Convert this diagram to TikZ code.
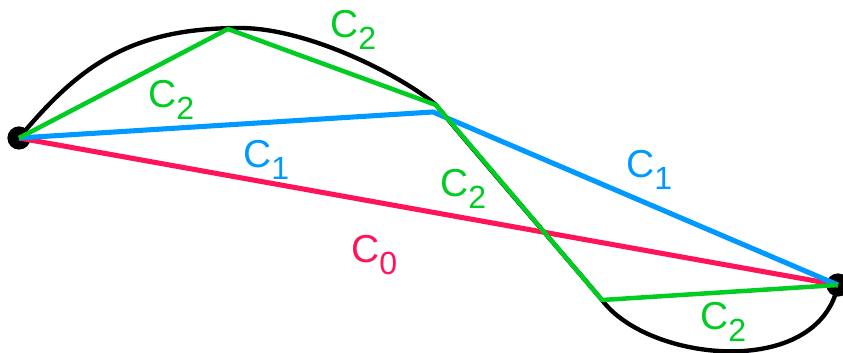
\documentclass[tikz,border=0pt]{standalone}
\usepackage{fontspec}
\setmainfont{Liberation Sans}
\usepackage{tikz}
\usepackage{xcolor}

\definecolor{czero}{RGB}{255,20,90}
\definecolor{cone}{RGB}{0,153,255}
\definecolor{ctwo}{RGB}{0,204,34}

\newcommand{\clab}[1]{C\raisebox{-8.5pt}{\fontsize{22.8pt}{24pt}\selectfont #1}}

\begin{document}
\begin{tikzpicture}[
        x=0.025cm, y=-0.025cm,
        enddot/.style={circle, fill=black, inner sep=0pt, minimum size=0.58cm},
        curve/.style={draw=black, line width=3.1pt},
        chordzero/.style={draw=czero, line width=3.6pt, line join=round},
        chordone/.style={draw=cone, line width=3.6pt, line join=round},
        chordtwo/.style={draw=ctwo, line width=3.2pt, line join=round},
        lab/.style={inner sep=0pt, anchor=base west,
                    font=\fontsize{27.7pt}{30pt}\selectfont}
    ]
    \useasboundingbox (0,0) rectangle (843,353);

    %% end points
    \node[enddot] (left)  at (19,138) {};
    \node[enddot] (right) at (838,285) {};

    %% the curve
    \draw[curve] (left.center) .. controls (79,66) and (130,28) .. (240,28)
                 .. controls (310,28) and (405,78) .. (436,105)
                 .. controls (462,137) and (570,262) .. (602,300)
                 .. controls (648,362) and (818,380) .. (right.center);

    %% C0
    \draw[chordzero] (left.center) -- (right.center);
    \node[lab, text=czero] (lzero) at (351,263) {\clab{0}};

    %% C1
    \coordinate (b1) at (433,112);
    \draw[chordone] (left.center) -- (b1) -- (right.center);
    \node[lab, text=cone] (lonea) at (243,168) {\clab{1}};
    \node[lab, text=cone] (loneb) at (626,178) {\clab{1}};

    %% C2
    \coordinate (g1) at (228,29);
    \coordinate (g2) at (436,105);
    \coordinate (g3) at (602,300);
    \draw[chordtwo] (left.center) -- (g1) -- (g2) -- (g3) -- (right.center);
    \node[lab, text=ctwo] (ltwoa) at (148,108) {\clab{2}};
    \node[lab, text=ctwo] (ltwob) at (330,38)  {\clab{2}};
    \node[lab, text=ctwo] (ltwoc) at (440,197) {\clab{2}};
    \node[lab, text=ctwo] (ltwod) at (700,330) {\clab{2}};

\end{tikzpicture}
\end{document}
